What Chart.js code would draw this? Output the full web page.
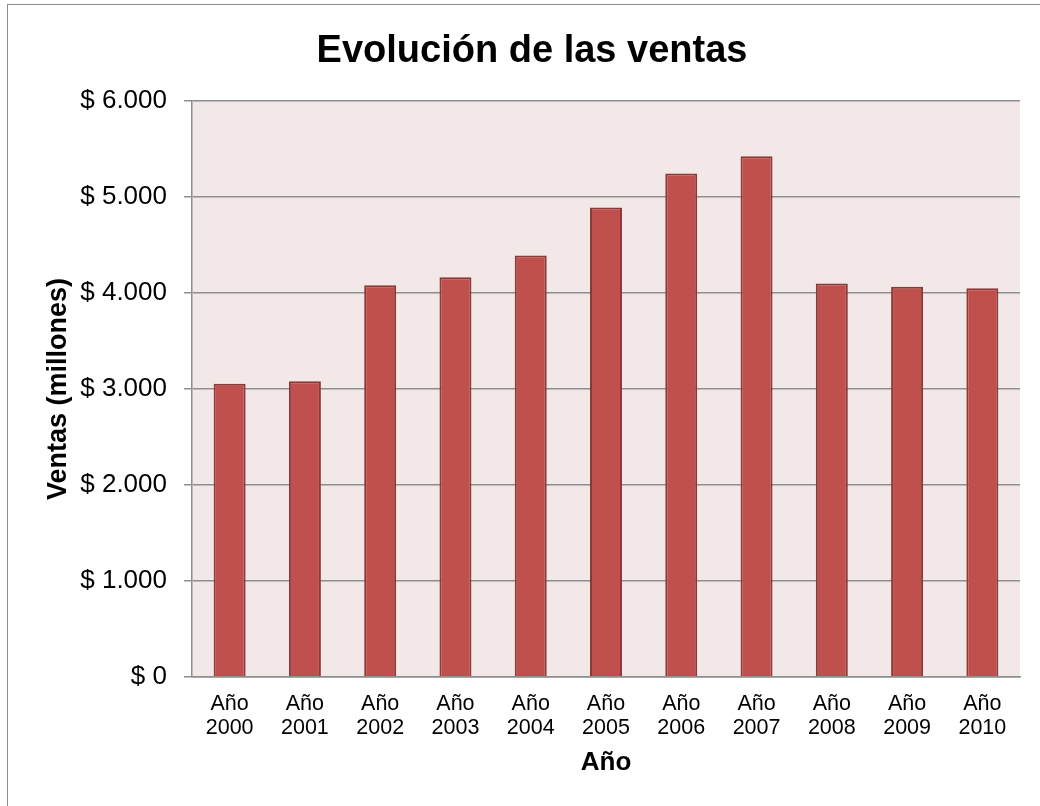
<!DOCTYPE html>
<html>
<head>
<meta charset="utf-8">
<script src="https://cdn.jsdelivr.net/npm/chart.js@4/dist/chart.umd.min.js"></script>
<style>
  html, body { margin: 0; padding: 0; background: #ffffff; overflow: hidden; }
  #wrap { position: relative; width: 1040px; height: 806px; }
  #frame { position: absolute; left: 7px; top: 4px; width: 3000px; height: 3000px;
           border: 1.5px solid #8c8c8c; pointer-events: none; box-sizing: border-box; }
  canvas { position: absolute; left: 0; top: 0; }
</style>
</head>
<body>
<div id="wrap">
  <div id="frame"></div>
  <canvas id="c" width="1040" height="806"></canvas>
</div>
<script>
// ---- data ----
const years = [2000, 2001, 2002, 2003, 2004, 2005, 2006, 2007, 2008, 2009, 2010];
const ventas = [3055, 3080, 4080, 4165, 4390, 4890, 5245, 5425, 4100, 4065, 4050];
const yTickLabels = ['$ 0', '$ 1.000', '$ 2.000', '$ 3.000', '$ 4.000', '$ 5.000', '$ 6.000'];
const chartTitle = 'Evolución de las ventas';
const yTitle = 'Ventas (millones)';
const xTitle = 'Año';

const categoryLabels = years.map(y => ['Año', String(y)]);
const FONT = "'Liberation Sans', Arial, Helvetica, sans-serif";
const gridColor = '#8e8e8e';

const plotBg = {
  id: 'plotBg',
  beforeDraw(chart) {
    const a = chart.chartArea;
    const ctx = chart.ctx;
    ctx.save();
    ctx.fillStyle = '#F2E8E8';
    ctx.fillRect(a.left, a.top, a.right - a.left, a.bottom - a.top);
    ctx.restore();
  }
};

new Chart(document.getElementById('c'), {
  type: 'bar',
  data: {
    labels: categoryLabels,
    datasets: [{
      data: ventas,
      backgroundColor: '#C0504D',
      borderColor: '#8C3A38',
      borderWidth: 2,
      borderSkipped: 'start',
      categoryPercentage: 1.0,
      barPercentage: 0.425
    }]
  },
  options: {
    responsive: false,
    animation: false,
    devicePixelRatio: 1,
    layout: { padding: { left: 44, right: 20, top: 0, bottom: 0 } },
    plugins: {
      legend: { display: false },
      tooltip: { enabled: false },
      title: {
        display: true,
        text: chartTitle,
        color: '#000',
        font: { family: FONT, size: 38, weight: 'bold', lineHeight: 1.2 },
        padding: { top: 28.7, bottom: 26.7 }
      }
    },
    scales: {
      x: {
        grid: { display: false, drawTicks: false },
        border: { display: true, color: gridColor, width: 1.5 },
        ticks: {
          color: '#000',
          font: { family: FONT, size: 21.5, lineHeight: 24 / 21.5 },
          padding: 15.3,
          maxRotation: 0,
          minRotation: 0,
          autoSkip: false
        },
        title: {
          display: true,
          text: xTitle,
          color: '#000',
          font: { family: FONT, size: 26, weight: 'bold', lineHeight: 1.2 },
          padding: { top: 0, bottom: 27.4 }
        },
        afterFit(scale) { scale.height = 129; }
      },
      y: {
        min: 0,
        max: 6000,
        grid: { color: gridColor, lineWidth: 1.5, tickLength: 8, drawTicks: true },
        border: { display: true, color: gridColor, width: 1.5 },
        ticks: {
          stepSize: 1000,
          color: '#000',
          padding: 17,
          font: { family: FONT, size: 26 },
          callback: (v, i) => yTickLabels[i]
        },
        title: {
          display: true,
          text: yTitle,
          color: '#000',
          font: { family: FONT, size: 27, weight: 'bold', lineHeight: 1.0 },
          padding: { top: 1, bottom: 0 }
        },
        afterFit(scale) { scale.width = 148; }
      }
    }
  },
  plugins: [plotBg]
});
</script>
</body>
</html>
